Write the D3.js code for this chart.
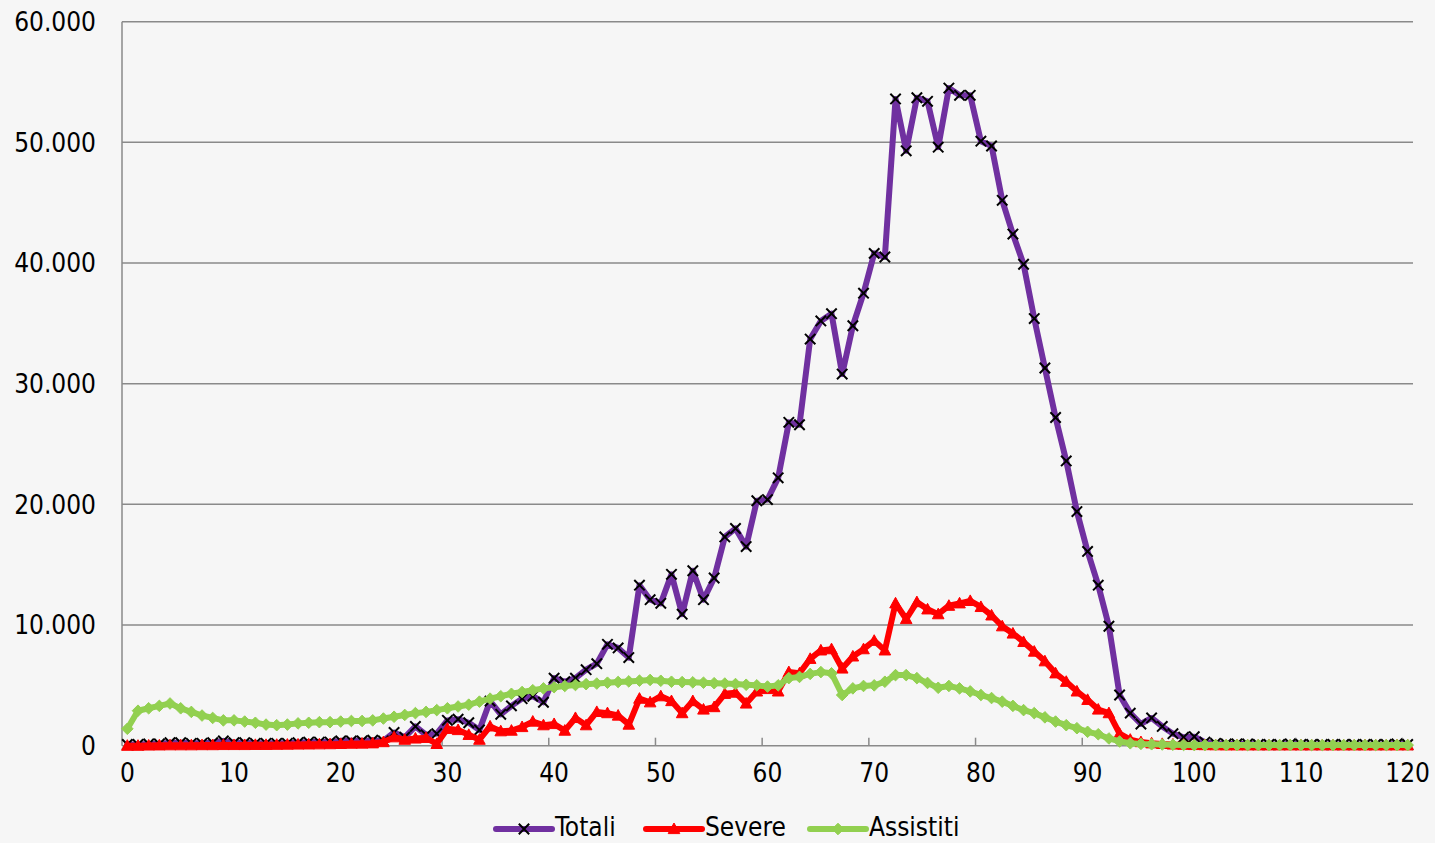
<!DOCTYPE html>
<html lang="it">
<head>
<meta charset="utf-8">
<title>Totali, Severe, Assistiti</title>
<script src="https://cdn.jsdelivr.net/npm/d3@7"></script>
<style>
  html, body { margin: 0; padding: 0; background: #f6f6f6; }
  svg { display: block; }
  text { font-family: "DejaVu Sans Condensed", "DejaVu Sans", sans-serif; fill: #000; }
</style>
</head>
<body>
<svg id="chart" width="1435" height="843"></svg>
<script>
// Categories 0..120
const categories = d3.range(0, 121);

const totali = [
  100, 100, 150, 150, 250, 250, 200, 200, 250, 400,
  250, 250, 200, 200, 200, 200, 250, 300, 300, 300,
  400, 400, 400, 450, 400, 1100, 700, 1600, 900, 1000,
  2100, 2200, 1900, 1300, 3700, 2600, 3300, 3900, 4100, 3600,
  5600, 5300, 5600, 6300, 6800, 8400, 8100, 7300, 13300, 12100,
  11800, 14200, 10900, 14500, 12100, 13900, 17300, 18000, 16500, 20300,
  20400, 22200, 26800, 26600, 33700, 35200, 35800, 30800, 34800, 37500,
  40800, 40500, 53600, 49300, 53700, 53400, 49600, 54500, 53900, 53900,
  50100, 49700, 45200, 42400, 39900, 35400, 31300, 27200, 23600, 19400,
  16100, 13300, 9900, 4200, 2700, 1800, 2300, 1600, 1000, 700,
  750, 300, 200, 150, 150, 150, 100, 100, 100, 150,
  100, 100, 100, 100, 100, 100, 100, 100, 100, 150,
  100
];

const severe = [
  0, 0, 20, 30, 40, 40, 40, 50, 50, 60,
  60, 60, 70, 70, 80, 90, 100, 110, 120, 130,
  150, 170, 180, 200, 300, 700, 500, 600, 650, 150,
  1400, 1300, 900, 500, 1600, 1200, 1250, 1550, 2000, 1700,
  1800, 1250, 2300, 1700, 2800, 2700, 2500, 1750, 3900, 3600,
  4100, 3700, 2700, 3700, 3000, 3200, 4300, 4400, 3500, 4500,
  4700, 4500, 6100, 6000, 7200, 7900, 8000, 6400, 7400, 8000,
  8700, 7900, 11800, 10500, 11900, 11300, 10900, 11600, 11800, 12000,
  11500, 10800, 9900, 9300, 8600, 7800, 7000, 6000, 5300, 4500,
  3800, 3000, 2700, 1000, 500, 300, 200, 150, 100, 80,
  60, 50, 40, 30, 30, 30, 30, 30, 30, 30,
  30, 30, 30, 30, 30, 30, 30, 30, 30, 30,
  30
];

const assistiti = [
  1400, 2900, 3100, 3300, 3500, 3100, 2800, 2500, 2300, 2100,
  2100, 2000, 1900, 1750, 1700, 1750, 1850, 1900, 1950, 1950,
  2000, 2050, 2050, 2100, 2250, 2400, 2550, 2700, 2800, 2950,
  3100, 3250, 3400, 3650, 3900, 4100, 4300, 4450, 4600, 4750,
  4850, 4950, 5030, 5100, 5150, 5220, 5280, 5330, 5390, 5450,
  5380, 5300, 5270, 5250, 5220, 5180, 5150, 5110, 5050, 5000,
  4900, 5000, 5600, 5700, 5950, 6100, 6000, 4200, 4750, 4950,
  5000, 5300, 5850, 5850, 5600, 5200, 4800, 4950, 4750, 4500,
  4200, 3950, 3650, 3300, 2950, 2700, 2350, 2000, 1700, 1450,
  1150, 950, 600, 350, 200, 150, 120, 100, 80, 60,
  50, 50, 50, 50, 50, 50, 50, 50, 50, 50,
  50, 50, 50, 50, 50, 50, 50, 50, 50, 50,
  50
];

const yTicks = [0, 10000, 20000, 30000, 40000, 50000, 60000];
const xTickLabels = [0, 10, 20, 30, 40, 50, 60, 70, 80, 90, 100, 110, 120];

const seriesNames = ["Totali", "Severe", "Assistiti"];
const seriesColors = ["#7030a0", "#ff0000", "#92d050"];
const seriesValues = [totali, severe, assistiti];
const seriesMarkers = ["x", "triangle", "diamond"];

// Italian number format: 60.000
const it = d3.formatLocale({ decimal: ",", thousands: ".", grouping: [3], currency: ["€", ""] });
const fmt = it.format(",.0f");

const svg = d3.select("#chart");
const plot = { left: 122, right: 1413, top: 21.7, bottom: 745.7 };

const x = d3.scaleBand().domain(categories).range([plot.left, plot.right]);
const cx = d => x(d) + x.bandwidth() / 2;
const y = d3.scaleLinear().domain([0, 60000]).range([plot.bottom, plot.top]);

// Horizontal gridlines
svg.append("g")
  .selectAll("line")
  .data(yTicks.filter(t => t > 0))
  .join("line")
  .attr("x1", plot.left).attr("x2", plot.right)
  .attr("y1", d => y(d)).attr("y2", d => y(d))
  .attr("stroke", "#8a8a8a").attr("stroke-width", 1.5);

// Value axis labels
svg.append("g")
  .selectAll("text")
  .data(yTicks)
  .join("text")
  .attr("x", 96)
  .attr("y", d => y(d))
  .attr("dy", "0.36em")
  .attr("text-anchor", "end")
  .attr("font-size", 26)
  .text(d => fmt(d));

// Axis lines
svg.append("line")
  .attr("x1", plot.left).attr("x2", plot.left)
  .attr("y1", plot.top).attr("y2", plot.bottom)
  .attr("stroke", "#8a8a8a").attr("stroke-width", 1.5);
svg.append("line")
  .attr("x1", plot.left).attr("x2", plot.right)
  .attr("y1", plot.bottom).attr("y2", plot.bottom)
  .attr("stroke", "#8a8a8a").attr("stroke-width", 1.5);

// Category tick marks (between categories, pointing inward)
svg.append("g")
  .selectAll("line")
  .data(xTickLabels.filter(k => k > 0))
  .join("line")
  .attr("x1", d => x(d)).attr("x2", d => x(d))
  .attr("y1", plot.bottom).attr("y2", plot.bottom - 8)
  .attr("stroke", "#8a8a8a").attr("stroke-width", 1.5);

// Category labels
svg.append("g")
  .selectAll("text")
  .data(xTickLabels)
  .join("text")
  .attr("x", d => cx(d))
  .attr("y", 773)
  .attr("dy", "0.36em")
  .attr("text-anchor", "middle")
  .attr("font-size", 26)
  .text(d => d);

// Marker shapes
function markerPath(kind) {
  if (kind === "x") {
    const s = 5.2;
    return `M${-s},${-s}L${s},${s}M${-s},${s}L${s},${-s}`;
  }
  if (kind === "triangle") {
    return "M0,-6L5.8,4.6L-5.8,4.6Z";
  }
  return "M0,-5.8L5.8,0L0,5.8L-5.8,0Z";
}
function styleMarker(sel, kind, color) {
  if (kind === "x") {
    sel.attr("fill", "none").attr("stroke", "#000").attr("stroke-width", 2);
  } else {
    sel.attr("fill", color).attr("stroke", color).attr("stroke-width", 1);
  }
}

const line = d3.line()
  .x((d, i) => cx(categories[i]))
  .y(d => y(d));

seriesValues.forEach((vals, s) => {
  const g = svg.append("g").attr("class", "series");
  g.append("path")
    .datum(vals)
    .attr("d", line)
    .attr("fill", "none")
    .attr("stroke", seriesColors[s])
    .attr("stroke-width", 6)
    .attr("stroke-linejoin", "round")
    .attr("stroke-linecap", "round");
  g.selectAll("path.m")
    .data(vals)
    .join("path")
    .attr("class", "m")
    .attr("d", markerPath(seriesMarkers[s]))
    .attr("transform", (d, i) => `translate(${cx(categories[i])},${y(d)})`)
    .call(styleMarker, seriesMarkers[s], seriesColors[s]);
});

// Legend
const legendItems = [
  { lx: 496, tx: 555 },
  { lx: 646, tx: 705 },
  { lx: 810, tx: 869 }
];
const legend = svg.append("g");
seriesNames.forEach((name, s) => {
  const item = legendItems[s];
  const ly = 829;
  legend.append("line")
    .attr("x1", item.lx).attr("x2", item.lx + 56)
    .attr("y1", ly).attr("y2", ly)
    .attr("stroke", seriesColors[s]).attr("stroke-width", 6)
    .attr("stroke-linecap", "round");
  legend.append("path")
    .attr("d", markerPath(seriesMarkers[s]))
    .attr("transform", `translate(${item.lx + 28},${ly})`)
    .call(styleMarker, seriesMarkers[s], seriesColors[s]);
  legend.append("text")
    .attr("x", item.tx)
    .attr("y", 827)
    .attr("dy", "0.36em")
    .attr("font-size", 26)
    .text(name);
});
</script>
</body>
</html>
